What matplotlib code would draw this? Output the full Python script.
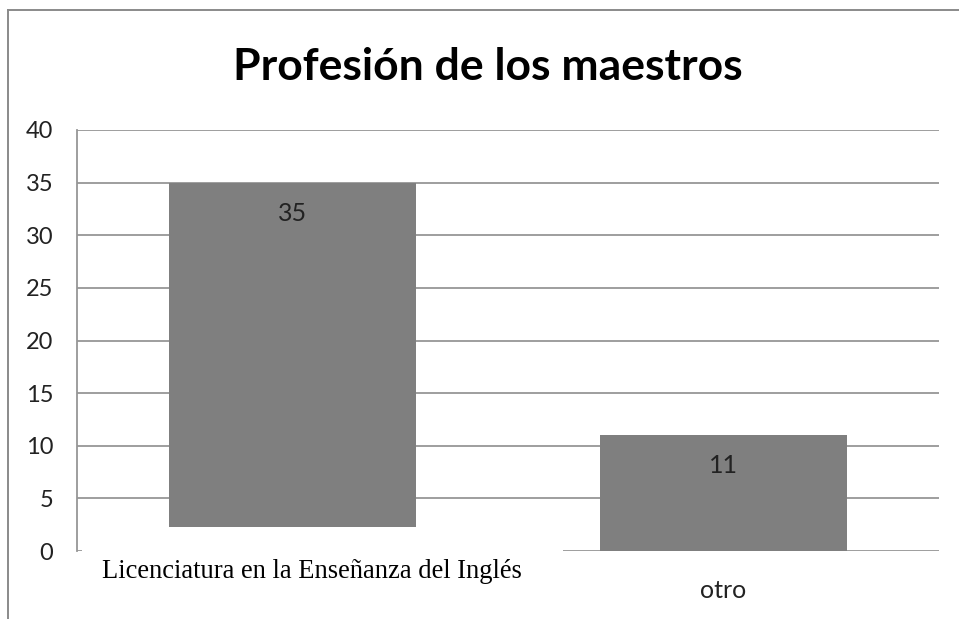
import matplotlib
matplotlib.use("Agg")
import matplotlib.pyplot as plt
from matplotlib.lines import Line2D
from matplotlib.patches import Rectangle

# data
categories = ["Licenciatura en la Enseñanza del Inglés", "otro"]
values = [35, 11]
yticks = [0, 5, 10, 15, 20, 25, 30, 35, 40]
title = "Profesión de los maestros"

bar_color = "#7f7f7f"
grid_color = "#969696"

fig = plt.figure(figsize=(9.59, 6.19), dpi=100)
fig.patch.set_facecolor("white")

# outer chart border (top and left only are visible)
fig.add_artist(Line2D([8 / 959, 8 / 959], [0, 1 - 10 / 619], color="#8a8a8a", lw=1.4))
fig.add_artist(Line2D([8 / 959, 1], [1 - 10 / 619, 1 - 10 / 619], color="#8a8a8a", lw=1.4))

ax = fig.add_axes([77 / 959, (619 - 551) / 619, (939 - 77) / 959, (551 - 130) / 619])
x = list(range(len(categories)))
ax.bar(x, values, width=0.571, color=bar_color, zorder=2)
ax.set_xlim(-0.5, 1.5)
ax.set_ylim(0, 40)
ax.set_yticks(yticks)
ax.set_yticklabels([str(t) for t in yticks], fontfamily="Lato", fontsize=17, color="#222222")
ax.tick_params(axis="y", length=0, pad=17)
ax.tick_params(axis="x", length=0, labelbottom=False)
ax.yaxis.grid(True, color=grid_color, lw=1.3, zorder=0)
ax.set_axisbelow(True)
for s in ["top", "right", "bottom"]:
    ax.spines[s].set_visible(False)
ax.spines["left"].set_color(grid_color)
ax.spines["left"].set_linewidth(1.3)

# value labels inside the bars
for xi, v in zip(x, values):
    ax.annotate(str(v), (xi, v), xytext=(0, -22), textcoords="offset points",
                ha="center", va="center", fontfamily="Lato", fontsize=18, color="#222222", zorder=4)

# white box pasted over the first category label area
ax.add_patch(Rectangle((-0.488, -8), 0.628 + 0.488, 8 + 2.3, facecolor="white",
                       edgecolor="none", zorder=3, clip_on=False))

# category labels
trans = ax.get_xaxis_transform()
ax.text(x[0] + 0.046, -0.0641, categories[0], transform=trans, ha="center", va="baseline",
        fontfamily="Liberation Serif", fontsize=19.1, color="black", zorder=5, clip_on=False)
ax.text(x[1], -0.1116, categories[1], transform=trans, ha="center", va="baseline",
        fontfamily="Lato", fontsize=18, color="#222222", zorder=5, clip_on=False)

fig.text(487.5 / 959, 1 - 80 / 619, title, ha="center", va="baseline",
         fontfamily="Lato", fontweight="bold", fontsize=32, color="black")

fig.savefig("out.png", dpi=100)
